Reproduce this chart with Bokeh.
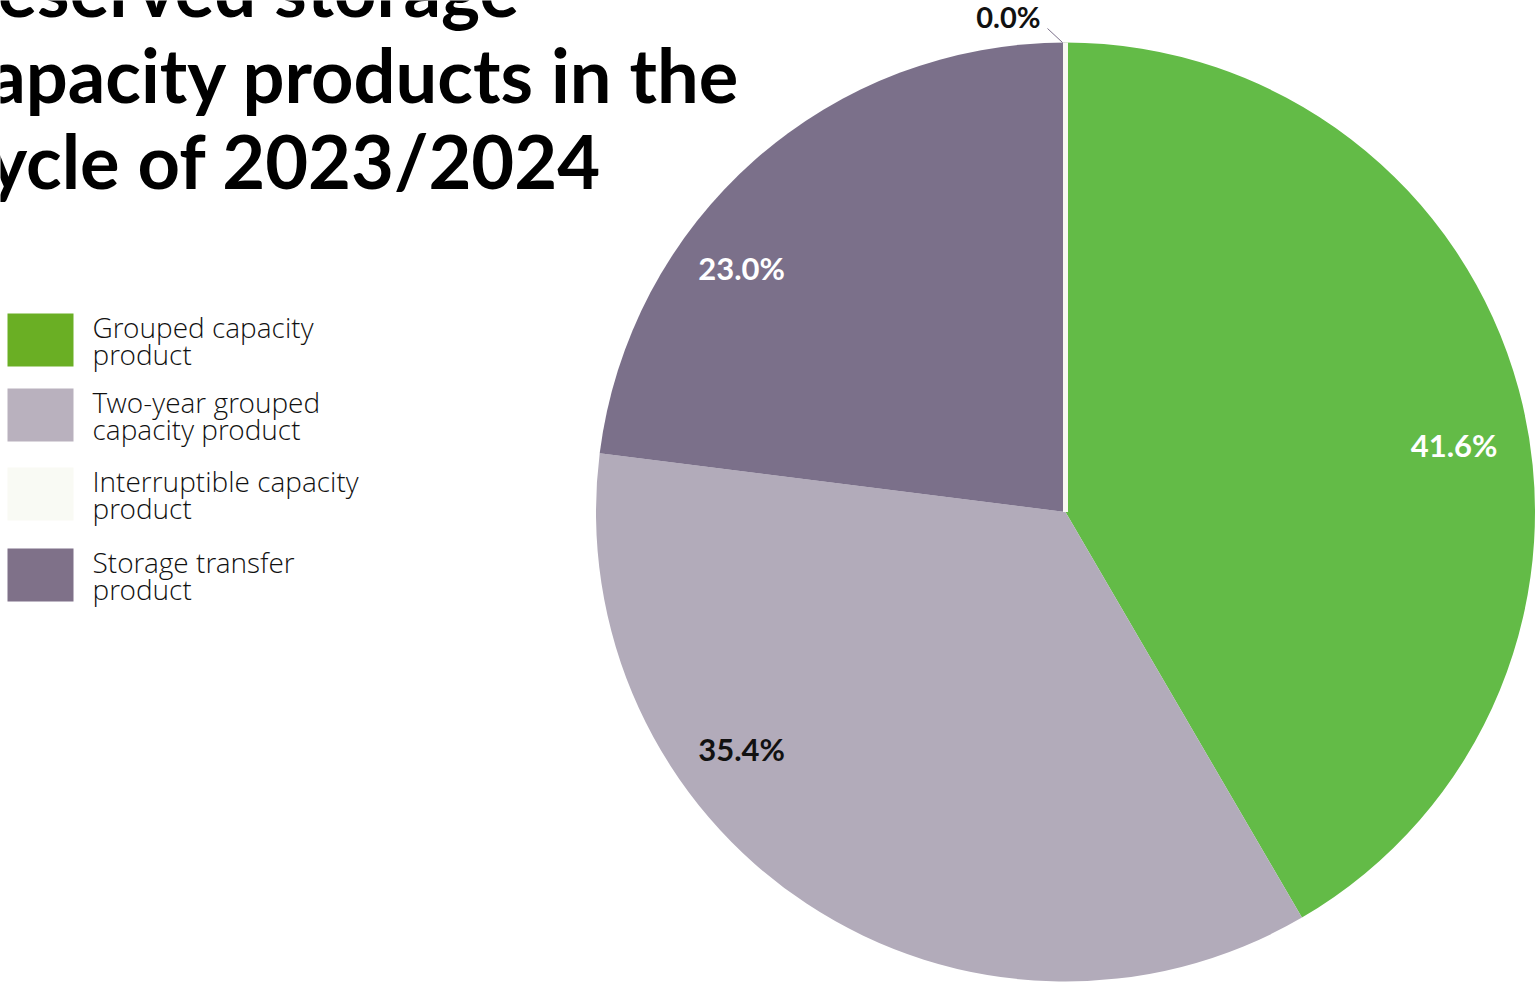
import numpy as np
from bokeh.plotting import figure
from bokeh.models import Range1d, ColumnDataSource
from bokeh.core.properties import value
from bokeh.embed import file_html
from bokeh.resources import INLINE

# ---------------- data ----------------
categories = ["Grouped capacity product", "Two-year grouped capacity product",
              "Interruptible capacity product", "Storage transfer product"]
legend_lines = [["Grouped capacity", "product"],
                ["Two-year grouped", "capacity product"],
                ["Interruptible capacity", "product"],
                ["Storage transfer", "product"]]
shares = [41.6, 35.4, 0.0, 23.0]
title_lines = ["Reserved storage", "capacity products in the", "cycle of 2023/2024"]

# ---------------- style ----------------
pie_colors = ["#63BB47", "#B2ABBA", "#F8F9F2", "#7B708A"]
legend_colors = ["#6AAF24", "#B9B1BE", "#F9FAF4", "#7F7189"]
label_colors = ["#FFFFFF", "#111111", "#111111", "#FFFFFF"]
draw_order = [0, 1, 3, 2]          # clockwise order starting at 12 o'clock
label_offset_deg = [5.3, 20.3, 0.0, -11.6]
label_radius_frac = [0.84, 0.855, 1.0, 0.864]

W, H = 1537, 994
CX, CY_PX, R = 1065.0, 511.5, 469.5
CY = H - CY_PX
TITLE_FONT = "Lato"
LEGEND_FONT = "Open Sans Light, Open Sans"
LABEL_FONT = "Lato"

p = figure(width=W, height=H, x_range=Range1d(0, W), y_range=Range1d(0, H),
           output_backend="svg", toolbar_location=None, min_border=0,
           x_axis_location=None, y_axis_location=None)
p.grid.visible = False
p.outline_line_color = None
p.background_fill_color = "white"
p.border_fill_color = "white"

# ---------------- pie ----------------
total = float(sum(shares))
cum = 0.0
starts, ends, mids = {}, {}, {}
for i in draw_order:
    s = cum
    cum += shares[i]
    starts[i] = np.pi / 2 - 2 * np.pi * s / total
    ends[i] = np.pi / 2 - 2 * np.pi * cum / total
    mids[i] = 0.5 * (starts[i] + ends[i])

wedge_idx = [i for i in draw_order if shares[i] > 0]
src = ColumnDataSource(dict(
    x=[CX] * len(wedge_idx), y=[CY] * len(wedge_idx),
    start=[starts[i] for i in wedge_idx], end=[ends[i] for i in wedge_idx],
    color=[pie_colors[i] for i in wedge_idx]))
p.wedge(x="x", y="y", radius=R, start_angle="start", end_angle="end",
        direction="clock", fill_color="color", line_color=None, source=src)

# zero-size slice drawn as a thin stroke
for i in draw_order:
    if shares[i] == 0:
        a = starts[i]
        p.segment(x0=[CX], y0=[CY], x1=[CX + R * np.cos(a)], y1=[CY + R * np.sin(a)],
                  line_color=pie_colors[i], line_width=5)

# ---------------- labels ----------------
for i in draw_order:
    txt = f"{shares[i]:.1f}%"
    if shares[i] == 0:
        a = starts[i]
        x0, y0 = CX + R * np.cos(a) - 3, CY + R * np.sin(a)
        x1, y1 = x0 - 15, y0 + 14
        p.segment(x0=[x0], y0=[y0], x1=[x1], y1=[y1], line_color="#7B708A", line_width=1)
        p.text(x=[x1 - 7], y=[y1 + 12], text=[txt], text_font=value(LABEL_FONT),
               text_font_style="bold", text_font_size="29px", text_color="#111111",
               text_align="right", text_baseline="middle")
    else:
        a = mids[i] - np.deg2rad(label_offset_deg[i])
        rr = R * label_radius_frac[i]
        p.text(x=[CX + rr * np.cos(a)], y=[CY + rr * np.sin(a)], text=[txt],
               text_font=value(LABEL_FONT), text_font_style="bold", text_font_size="31px",
               text_color=label_colors[i], text_align="center", text_baseline="middle")

# ---------------- title ----------------
title_size = 74
title_baselines_px = [18, 104, 190]
shift = 0.41 * title_size
p.text(x=[-48] * 3, y=[H - b + shift for b in title_baselines_px], text=title_lines,
       text_font=value(TITLE_FONT), text_font_style="bold", text_font_size=f"{title_size}px",
       text_color="#000000", text_align="left", text_baseline="alphabetic")

# ---------------- legend ----------------
legend_size = 28
legend_tops_px = [313, 388, 467, 548]
box_h = 53
lshift = 0.44 * legend_size
for k, top in enumerate(legend_tops_px):
    p.quad(left=[7], right=[73], top=[H - top], bottom=[H - top - box_h],
           fill_color=legend_colors[k], line_color=None)
    base2 = top + box_h
    p.text(x=[92, 92], y=[H - (base2 - 27) + lshift, H - base2 + lshift], text=legend_lines[k],
           text_font=value(LEGEND_FONT), text_font_size=f"{legend_size}px", text_color="#111111",
           text_align="left", text_baseline="alphabetic")

open("out.html", "w").write(file_html(p, INLINE))
